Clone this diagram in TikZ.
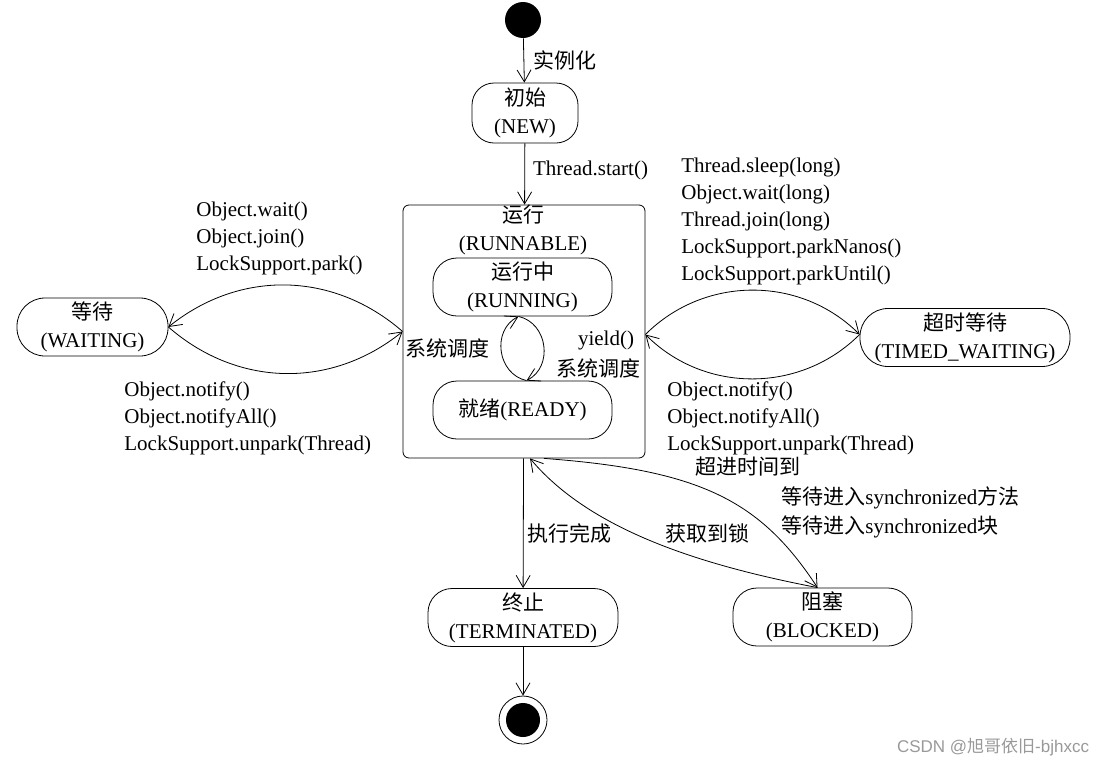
\documentclass[tikz,border=0pt]{standalone}
\usepackage{fontspec}
\setmainfont{Liberation Serif}
\newfontfamily\cjk{Noto Sans CJK SC}
\newfontfamily\wmfont{Liberation Sans}
\newcommand{\zh}[1]{{\cjk #1}}
\usetikzlibrary{arrows.meta}

\begin{document}
\begin{tikzpicture}[x=1pt, y=1pt, line width=0.8pt, font=\fontsize{21}{28}\selectfont,
		st/.style={draw, rounded corners=24pt, minimum height=58pt, align=center, inner sep=2pt},
		tr/.style={-{Straight Barb[length=12pt,width=14pt]}},
		lbl/.style={inner sep=0pt, align=left, font=\fontsize{21}{27}\selectfont}]
		\useasboundingbox (0,0) rectangle (1114,-766);
		\node[circle, fill, minimum size=36pt, inner sep=0pt] (init) at (523,-20) {};
		\node[st, minimum width=106pt, minimum height=60pt, rounded corners=22pt] (new) at (525,-113) {\zh{初始}\\(NEW)};
		\node[draw, rounded corners=6pt, minimum width=242pt, minimum height=253pt] (run) at (524,-331.5) {};
		\node[inner sep=0pt, align=center] (runlbl) at (523,-229.5) {\zh{运行}\\(RUNNABLE)};
		\node[st, minimum width=179pt] (running) at (522.5,-287) {\zh{运行中}\\(RUNNING)};
		\node[st, minimum width=179pt] (ready) at (522.5,-410) {\zh{就绪}(READY)};
		\node[st, minimum width=151pt, rounded corners=28pt] (waiting) at (92.5,-327) {\zh{等待}\\(WAITING)};
		\node[st, minimum width=210pt, rounded corners=28pt] (timed) at (965,-337.5) {\zh{超时等待}\\(TIMED\_WAITING)};
		\node[st, minimum width=190pt] (term) at (523,-617.5) {\zh{终止}\\(TERMINATED)};
		\node[st, minimum width=179pt] (blocked) at (822.5,-617) {\zh{阻塞}\\(BLOCKED)};
		\node[circle, draw, minimum size=48pt, inner sep=0pt] (final) at (523,-720) {};
		\node[circle, fill, minimum size=34pt, inner sep=0pt] (finaldot) at (final) {};

		\draw[tr] (init) -- node[right=9pt, inner sep=0pt] {\zh{实例化}} (new);
		\draw[tr] (new) -- node[right=8pt, inner sep=0pt, pos=0.45] {Thread.start()} (run);
		\draw[tr] ([xshift=4pt]ready.north) to[bend left=70, looseness=1.2] ([xshift=-4pt]running.south);
		\draw[tr] ([xshift=-4pt]running.south) to[bend left=70, looseness=1.2] ([xshift=4pt]ready.north);
		\node[lbl] (sched1) at (447,-348) {\zh{系统调度}};
		\node[lbl] (yield) at (606,-340) {yield()};
		\node[lbl] (sched2) at (598,-368) {\zh{系统调度}};

		\draw[tr] (run.west) to[bend right=40] (waiting.east);
		\draw[tr] (waiting.east) to[bend right=40] (run.west);
		\node[lbl, anchor=west] (waitin) at (196,-238) {Object.wait()\\Object.join()\\LockSupport.park()};
		\node[lbl, anchor=west] (waitout) at (124,-418) {Object.notify()\\Object.notifyAll()\\LockSupport.unpark(Thread)};

		\draw[tr] ([yshift=-3pt]run.east) to[bend left=45] ([yshift=3pt]timed.west);
		\draw[tr] ([yshift=3pt]timed.west) to[bend left=45] ([yshift=-3pt]run.east);
		\node[lbl, anchor=west] (timedin) at (681,-221) {Thread.sleep(long)\\Object.wait(long)\\Thread.join(long)\\LockSupport.parkNanos()\\LockSupport.parkUntil()};
		\node[lbl, anchor=west] (timedout) at (667,-418) {Object.notify()\\Object.notifyAll()\\LockSupport.unpark(Thread)};
		\node[lbl] (timeout) at (748,-467) {\zh{超进时间到}};

		\draw[tr] (run) -- node[right=4pt, inner sep=0pt, pos=0.58] {\zh{执行完成}} (term);
		\draw[tr] ([xshift=20pt]run.south) .. controls (700,-470) and (760,-500) .. ([xshift=-5pt]blocked.north);
		\draw[tr] ([xshift=-5pt]blocked.north) .. controls (700,-565) and (590,-530) .. ([xshift=6pt]run.south);
		\node[lbl] (lock) at (707,-533) {\zh{获取到锁}};
		\node[lbl, anchor=west, font=\fontsize{21}{29}\selectfont] (syncin) at (781,-512) {\zh{等待进入}synchronized\zh{方法}\\\zh{等待进入}synchronized\zh{块}};
		\draw[tr] (term) -- (final);

		\node[lbl, text=black!40, font=\wmfont\fontsize{17}{20}\selectfont] (mark) at (993,-747) {CSDN @\zh{旭哥依旧}-bjhxcc};
	\end{tikzpicture}
\end{document}
